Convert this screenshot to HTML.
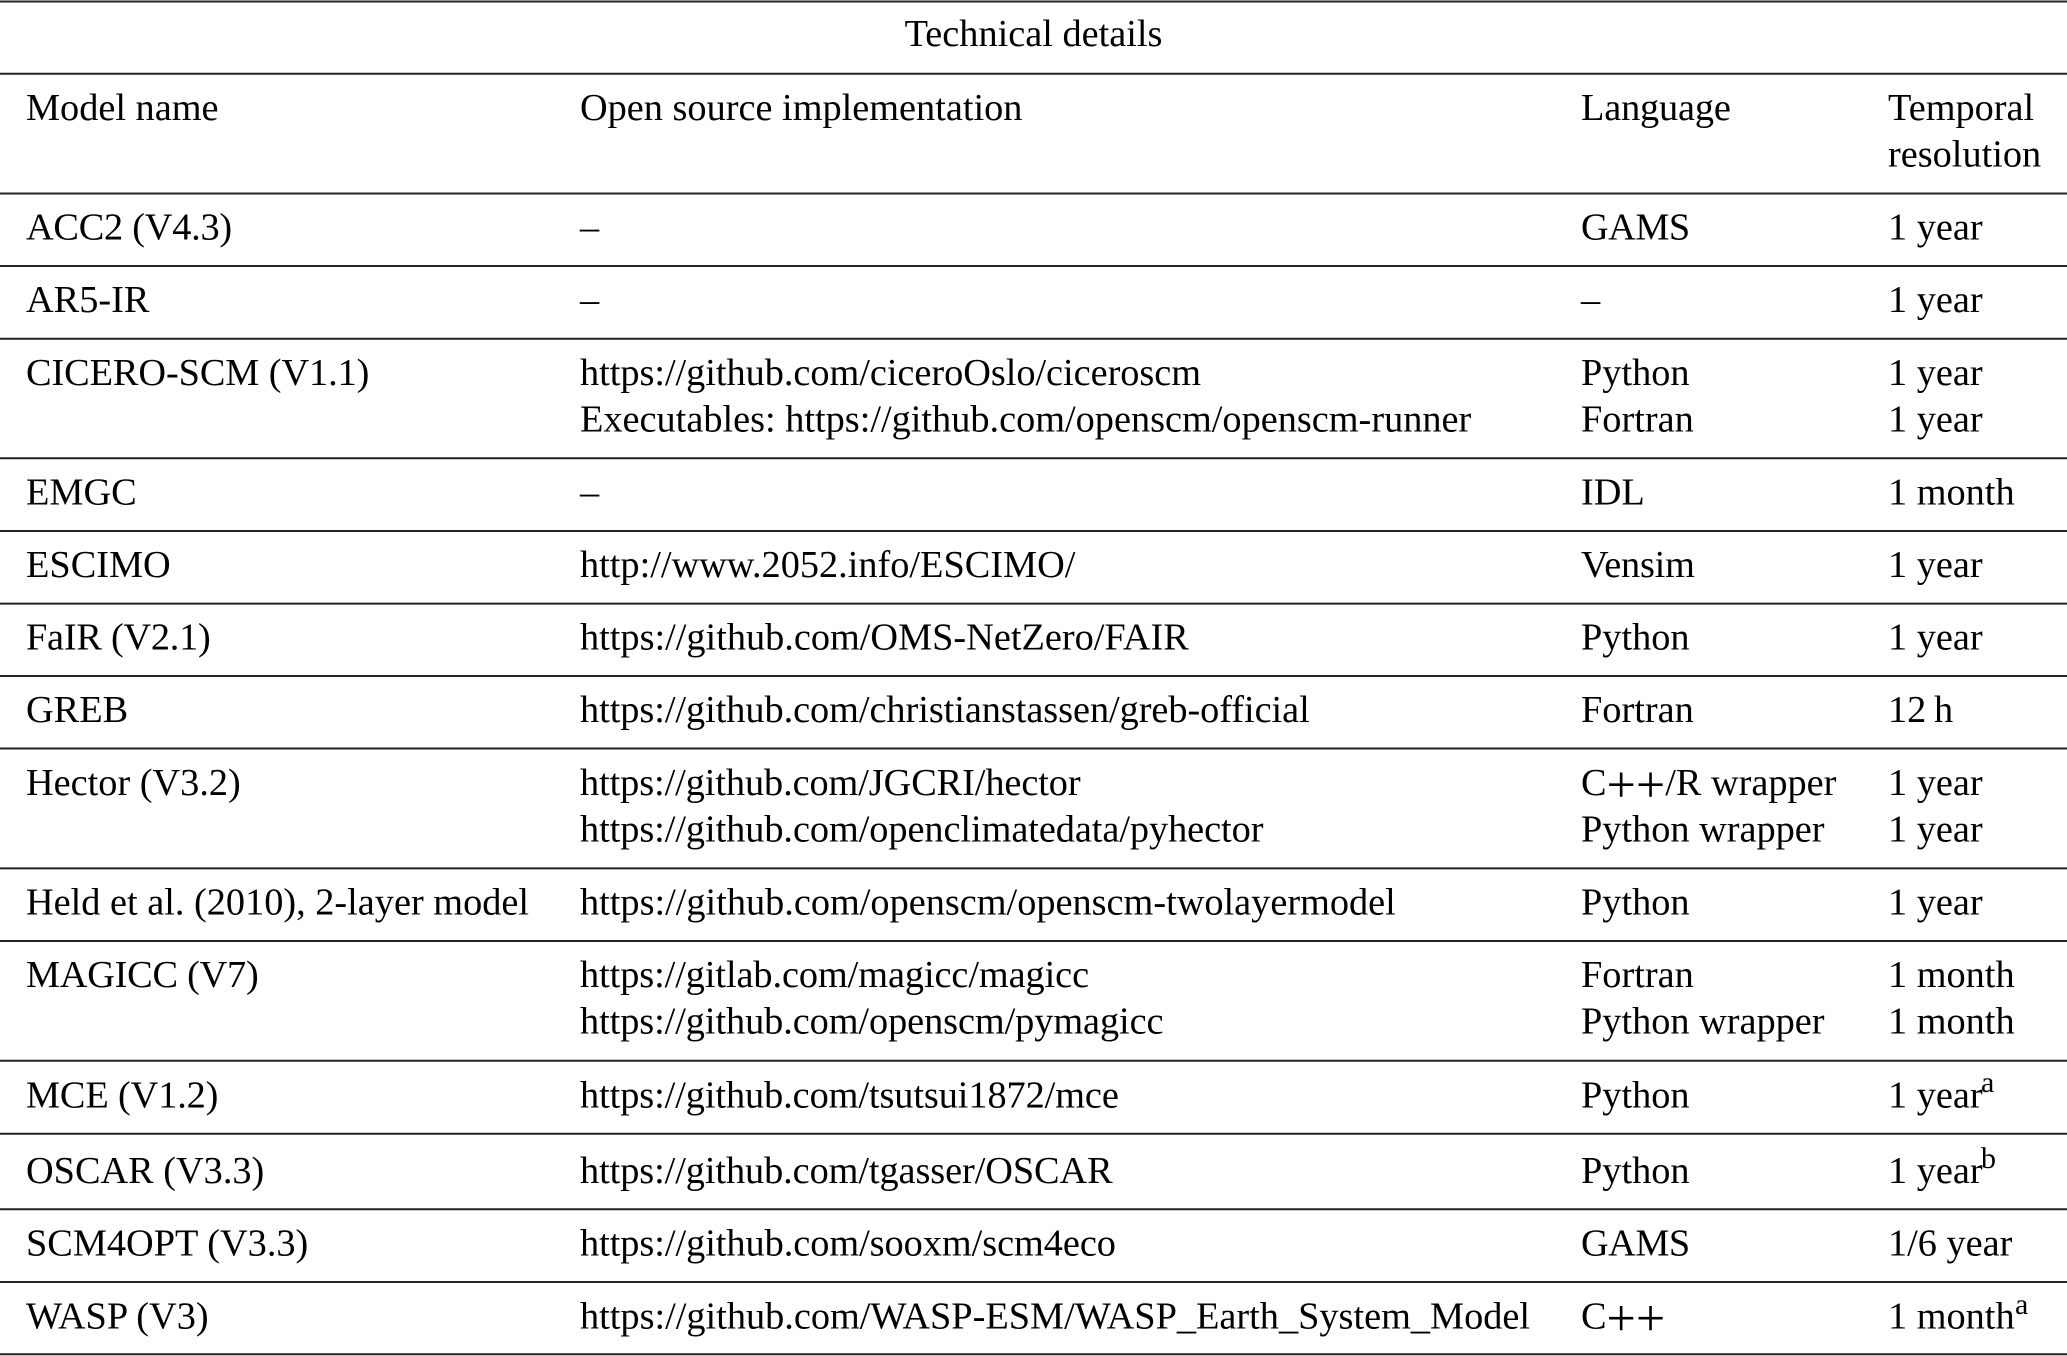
<!DOCTYPE html>
<html><head><meta charset="utf-8"><style>
html,body{margin:0;padding:0;background:#fff;width:2067px;height:1356px;overflow:hidden}
svg{display:block}
text{font-family:"Liberation Serif",serif;font-size:38.3px;fill:#000}
line{stroke:#222;stroke-width:2}
.s{font-size:30px}
</style></head><body>
<svg width="2067" height="1356" viewBox="0 0 2067 1356" xmlns="http://www.w3.org/2000/svg">
<g>
<line x1="0" x2="2067" y1="1.5" y2="1.5"/><line x1="0" x2="2067" y1="73.7" y2="73.7"/><line x1="0" x2="2067" y1="193.5" y2="193.5"/><line x1="0" x2="2067" y1="266" y2="266"/><line x1="0" x2="2067" y1="338.7" y2="338.7"/><line x1="0" x2="2067" y1="458.3" y2="458.3"/><line x1="0" x2="2067" y1="531" y2="531"/><line x1="0" x2="2067" y1="603.6" y2="603.6"/><line x1="0" x2="2067" y1="676" y2="676"/><line x1="0" x2="2067" y1="748.5" y2="748.5"/><line x1="0" x2="2067" y1="868.4" y2="868.4"/><line x1="0" x2="2067" y1="941" y2="941"/><line x1="0" x2="2067" y1="1060.7" y2="1060.7"/><line x1="0" x2="2067" y1="1133.7" y2="1133.7"/><line x1="0" x2="2067" y1="1209.3" y2="1209.3"/><line x1="0" x2="2067" y1="1282" y2="1282"/><line x1="0" x2="2067" y1="1354.3" y2="1354.3"/>
</g>
<text x="1033.5" y="46" text-anchor="middle">Technical details</text>

<text x="26" y="120">Model name</text><text x="580" y="120">Open source implementation</text><text x="1581" y="120" letter-spacing="-0.16">Language</text><text x="1888" y="120">Temporal</text><text x="1888" y="166.5">resolution</text>

<text x="26" y="239.5" letter-spacing="-0.24">ACC2 (V4.3)</text><text x="580" y="239.5">–</text><text x="1581" y="239.5" letter-spacing="-0.5">GAMS</text><text x="1888" y="239.5">1 year</text>

<text x="26" y="312">AR5-IR</text><text x="580" y="312">–</text><text x="1581" y="312">–</text><text x="1888" y="312">1 year</text>

<text x="26" y="385" letter-spacing="-0.08">CICERO-SCM (V1.1)</text><text x="580" y="385" letter-spacing="-0.03">https://github.com/ciceroOslo/ciceroscm</text><text x="1581" y="385">Python</text><text x="1888" y="385">1 year</text>
<text x="580" y="431.7">Executables: https://github.com/openscm/openscm-runner</text><text x="1581" y="431.7">Fortran</text><text x="1888" y="431.7">1 year</text>

<text x="26" y="504.3">EMGC</text><text x="580" y="504.3">–</text><text x="1581" y="504.3">IDL</text><text x="1888" y="504.3">1 month</text>

<text x="26" y="577">ESCIMO</text><text x="580" y="577">http://www.2052.info/ESCIMO/</text><text x="1581" y="577" letter-spacing="-0.2">Vensim</text><text x="1888" y="577">1 year</text>

<text x="26" y="649.6" letter-spacing="-0.24">FaIR (V2.1)</text><text x="580" y="649.6">https://github.com/OMS-NetZero/FAIR</text><text x="1581" y="649.6">Python</text><text x="1888" y="649.6">1 year</text>

<text x="26" y="722">GREB</text><text x="580" y="722" letter-spacing="-0.05">https://github.com/christianstassen/greb-official</text><text x="1581" y="722">Fortran</text><text x="1888" y="722">12&#8201;h</text>

<text x="26" y="795">Hector (V3.2)</text><text x="580" y="795" letter-spacing="-0.085">https://github.com/JGCRI/hector</text><text x="1581" y="795">C<tspan font-size="52" dy="7">++</tspan><tspan dy="-7">/R wrapper</tspan></text><text x="1888" y="795">1 year</text>
<text x="580" y="841.5" letter-spacing="-0.06">https://github.com/openclimatedata/pyhector</text><text x="1581" y="841.5">Python wrapper</text><text x="1888" y="841.5">1 year</text>

<text x="26" y="914.4">Held et al. (2010), 2-layer model</text><text x="580" y="914.4">https://github.com/openscm/openscm-twolayermodel</text><text x="1581" y="914.4">Python</text><text x="1888" y="914.4">1 year</text>

<text x="26" y="987" letter-spacing="-0.24">MAGICC (V7)</text><text x="580" y="987" letter-spacing="-0.08">https://gitlab.com/magicc/magicc</text><text x="1581" y="987">Fortran</text><text x="1888" y="987">1 month</text>
<text x="580" y="1033.5" letter-spacing="-0.075">https://github.com/openscm/pymagicc</text><text x="1581" y="1033.5">Python wrapper</text><text x="1888" y="1033.5">1 month</text>

<text x="26" y="1107.5" letter-spacing="-0.13">MCE (V1.2)</text><text x="580" y="1107.5" letter-spacing="-0.08">https://github.com/tsutsui1872/mce</text><text x="1581" y="1107.5">Python</text><text x="1888" y="1107.5">1 year</text><text class="s" x="1981" y="1092">a</text>

<text x="26" y="1183">OSCAR (V3.3)</text><text x="580" y="1183" letter-spacing="-0.08">https://github.com/tgasser/OSCAR</text><text x="1581" y="1183">Python</text><text x="1888" y="1183">1 year</text><text class="s" x="1981" y="1168">b</text>

<text x="26" y="1255.7">SCM4OPT (V3.3)</text><text x="580" y="1255.7" letter-spacing="-0.04">https://github.com/sooxm/scm4eco</text><text x="1581" y="1255.7" letter-spacing="-0.5">GAMS</text><text x="1888" y="1255.7">1/6 year</text>

<text x="26" y="1328.3">WASP (V3)</text><text x="580" y="1328.3">https://github.com/WASP-ESM/WASP_Earth_System_Model</text><text x="1581" y="1328.3">C<tspan font-size="52" dy="7">++</tspan></text><text x="1888" y="1328.3">1 month</text><text class="s" x="2015" y="1314">a</text>
</svg>
</body></html>
